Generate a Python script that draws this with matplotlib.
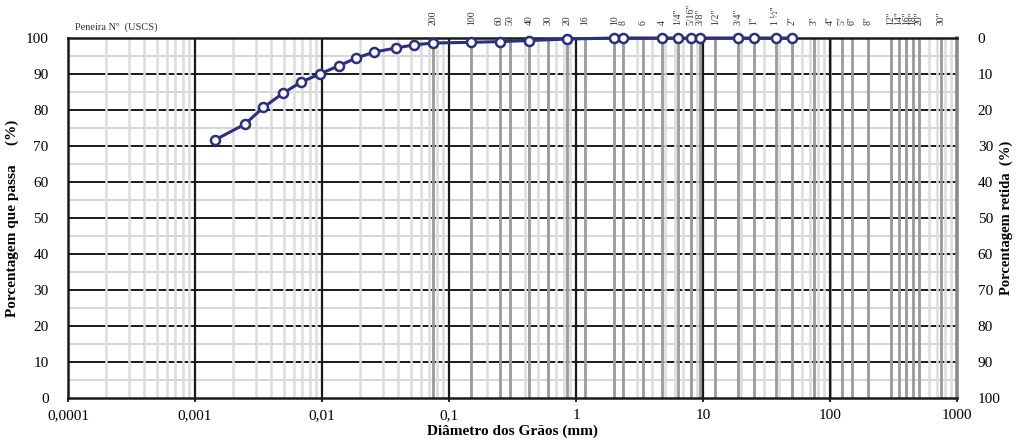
import matplotlib
matplotlib.use("Agg")
import matplotlib.pyplot as plt
import numpy as np

plt.rcParams['font.family'] = ['Liberation Serif', 'DejaVu Serif']

# Data: grain size distribution
diam_mm = [0.00144, 0.00248, 0.00345, 0.0049, 0.0068, 0.0096, 0.0136, 0.0185,
           0.0258, 0.038, 0.0533, 0.075, 0.15, 0.25, 0.425, 0.85, 2.0, 2.36,
           4.75, 6.3, 8.0, 9.5, 19.0, 25.0, 37.5, 50.0]
pct_passing = [71.7, 76.1, 80.7, 84.6, 87.7, 90.0, 92.3, 94.4,
               96.1, 97.2, 98.1, 98.6, 98.8, 99.0, 99.3, 99.7, 100, 100,
               100, 100, 100, 100, 100, 100, 100, 100]

# Sieves (USCS)
sieve_labels = ['200', '100', '60', '50', '40', '30', '20', '16', '10', '8', '6', '4',
                '1/4"', '5/16"', '3/8"', '1/2"', '3/4"', '1"', '1 ½"', '2"', '3"', '4"',
                '5"', '6"', '8"', '12"', '14"', '16"', '18"', '20"', '30"']
sieve_mm = [0.075, 0.15, 0.25, 0.3, 0.425, 0.6, 0.85, 1.18, 2.0, 2.36, 3.35, 4.75,
            6.3, 8.0, 9.5, 12.5, 19.0, 25.0, 37.5, 50.0, 75.0, 100.0,
            125.0, 150.0, 200.0, 300.0, 350.0, 400.0, 450.0, 500.0, 750.0]

x_ticks = [0.0001, 0.001, 0.01, 0.1, 1, 10, 100, 1000]
x_ticklabels = ['0,0001', '0,001', '0,01', '0,1', '1', '10', '100', '1000']
y_ticks = list(range(0, 101, 10))

W, H = 1018, 444
fig = plt.figure(figsize=(W/100, H/100), dpi=100)
ax = fig.add_axes([68/W, 1-398/H, (957-68)/W, 360/H])
ax.set_xscale('log')
ax.set_xlim(0.0001, 1000)
ax.set_ylim(0, 100)

# horizontal major lines (black)
for y in y_ticks[1:-1]:
    ax.axhline(y, color='#1a1a1a', lw=1.4, zorder=1)
# horizontal minor lines (light gray)
for y in range(5, 100, 10):
    ax.axhline(y, color='#d6d6d6', lw=1.4, zorder=1)
# vertical minor light grid
for d in x_ticks[:-1]:
    for m in range(2, 10):
        ax.axvline(d*m, color='#dcdcdc', lw=1.8, zorder=2)
# sieve lines
for s in sieve_mm:
    ax.axvline(s, color='#9a9a9a', lw=2.0, zorder=3)
# decade lines
for d in x_ticks[1:-1]:
    ax.axvline(d, color='#1a1a1a', lw=1.6, zorder=4)

ax.plot(diam_mm, pct_passing, color='#2b2f7e', lw=2.2, marker='o', ms=6.5,
        mfc='white', mec='#2b2f7e', mew=1.8, zorder=6, clip_on=False)

ax.set_xticks(x_ticks)
ax.set_xticklabels(x_ticklabels, fontsize=11)
ax.xaxis.set_minor_locator(matplotlib.ticker.NullLocator())
ax.tick_params(axis='x', length=3, width=1.2, pad=5)
ax.set_yticks(y_ticks)
ax.set_yticklabels([str(v) for v in y_ticks], fontsize=11)
ax.tick_params(axis='y', length=0, pad=14)

for sp in ['left', 'bottom', 'top']:
    ax.spines[sp].set_linewidth(1.8)
    ax.spines[sp].set_color('#1a1a1a')
    ax.spines[sp].set_zorder(5)
ax.spines['right'].set_linewidth(2.6)
ax.spines['right'].set_color('#8a8a8a')

ax.set_xlabel('Diâmetro dos Grãos (mm)', fontsize=11, fontweight='bold', labelpad=2)
ax.set_ylabel('Porcentagem que passa     (%)', fontsize=11, fontweight='bold')
ax.yaxis.set_label_coords((19-68)/(957-68), 0.5)

ax2 = ax.twinx()
ax2.set_ylim(100, 0)
ax2.set_yticks(y_ticks)
ax2.set_yticklabels([str(v) for v in y_ticks], fontsize=11)
ax2.tick_params(axis='y', length=0, pad=15)
for sp in ax2.spines.values():
    sp.set_visible(False)
ax2.set_ylabel('Porcentagem retida  (%)', fontsize=10.5, fontweight='bold')
ax2.yaxis.set_label_coords((1000-68)/(957-68), 0.5)

# Sieve labels on top
for lab, s in zip(sieve_labels, sieve_mm):
    ax.annotate(lab, xy=(s, 100), xytext=(0, 9), textcoords='offset points',
                rotation=90, ha='center', va='bottom', fontsize=7,
                color='#333333', annotation_clip=False)

ax.annotate('Peneira Nº  (USCS)', xy=(0.0001, 100), xytext=(5, 4),
            textcoords='offset points', fontsize=7.5, color='#333333',
            ha='left', va='bottom', annotation_clip=False)

fig.savefig('out.png', dpi=100)
